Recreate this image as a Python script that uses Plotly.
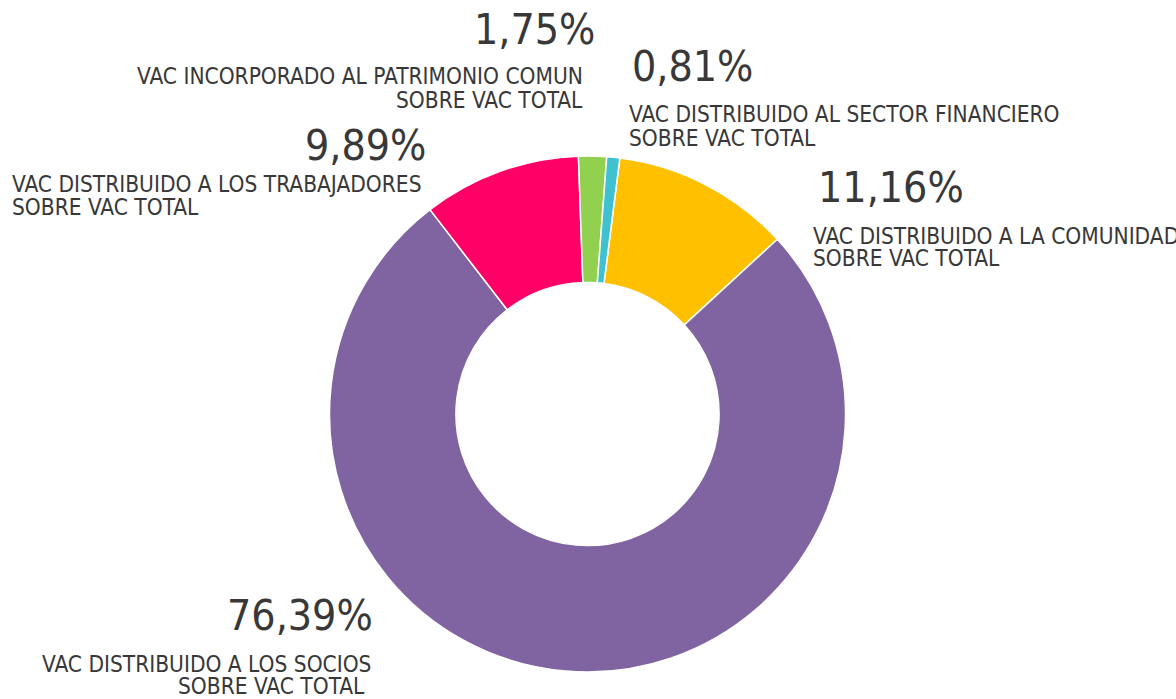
import plotly.graph_objects as go

labels = [
    "VAC DISTRIBUIDO A LA COMUNIDAD SOBRE VAC TOTAL",
    "VAC DISTRIBUIDO A LOS SOCIOS SOBRE VAC TOTAL",
    "VAC DISTRIBUIDO A LOS TRABAJADORES SOBRE VAC TOTAL",
    "VAC INCORPORADO AL PATRIMONIO COMUN SOBRE VAC TOTAL",
    "VAC DISTRIBUIDO AL SECTOR FINANCIERO SOBRE VAC TOTAL",
]
values = [11.16, 76.39, 9.89, 1.75, 0.81]
pct_labels = ["11,16%", "76,39%", "9,89%", "1,75%", "0,81%"]
line1 = [
    "VAC DISTRIBUIDO A LA COMUNIDAD",
    "VAC DISTRIBUIDO A LOS SOCIOS",
    "VAC DISTRIBUIDO A LOS TRABAJADORES",
    "VAC INCORPORADO AL PATRIMONIO COMUN",
    "VAC DISTRIBUIDO AL SECTOR FINANCIERO",
]
line2 = ["SOBRE VAC TOTAL"] * 5
colors = ["#FFC000", "#8064A2", "#FF0066", "#92D050", "#3FC1CF"]

W, H = 1176, 699
FONT = "DejaVu Sans Condensed, Roboto, sans-serif"
TXT = "#383838"

# label layout in pixels: (pct x, pct y, pct anchor, l1 x, l1 y, l1 anchor, l2 x, l2 y, l2 anchor)
layout_px = [
    (816, 187, "left", 811, 236, "left", 811, 258, "left"),
    (375, 615, "right", 40, 664, "left", 367, 686, "right"),
    (428, 146, "right", 10, 184, "left", 10, 207, "left"),
    (597, 30, "right", 585, 76, "right", 585, 100, "right"),
    (630, 67, "left", 627, 114, "left", 627, 138, "left"),
]

cx, cy, r = 587.5, 414, 258
fig = go.Figure(go.Pie(
    labels=labels,
    values=values,
    marker=dict(colors=colors, line=dict(color="white", width=1.5)),
    hole=0.51,
    sort=False,
    direction="clockwise",
    rotation=7.2,
    textinfo="none",
    hoverinfo="label+percent",
    domain=dict(x=[(cx - r) / W, (cx + r) / W],
                y=[1 - (cy + r) / H, 1 - (cy - r) / H]),
    showlegend=False,
))

annotations = []
for i in range(len(values)):
    px, py, pa, l1x, l1y, l1a, l2x, l2y, l2a = layout_px[i]
    annotations.append(dict(x=px / W, y=1 - py / H, xref="paper", yref="paper",
                            text=pct_labels[i], showarrow=False, xanchor=pa, yanchor="middle",
                            font=dict(family=FONT, size=42.5, color=TXT)))
    annotations.append(dict(x=l1x / W, y=1 - l1y / H, xref="paper", yref="paper",
                            text=line1[i], showarrow=False, xanchor=l1a, yanchor="middle",
                            font=dict(family=FONT, size=22.5, color=TXT)))
    annotations.append(dict(x=l2x / W, y=1 - l2y / H, xref="paper", yref="paper",
                            text=line2[i], showarrow=False, xanchor=l2a, yanchor="middle",
                            font=dict(family=FONT, size=22.5, color=TXT)))

fig.update_layout(
    width=W, height=H,
    margin=dict(l=0, r=0, t=0, b=0),
    paper_bgcolor="white",
    plot_bgcolor="white",
    annotations=annotations,
)

fig.write_html("out.html",
               config={"displayModeBar": False},
               post_script="document.body.style.margin='0';document.body.style.overflow='hidden';")
